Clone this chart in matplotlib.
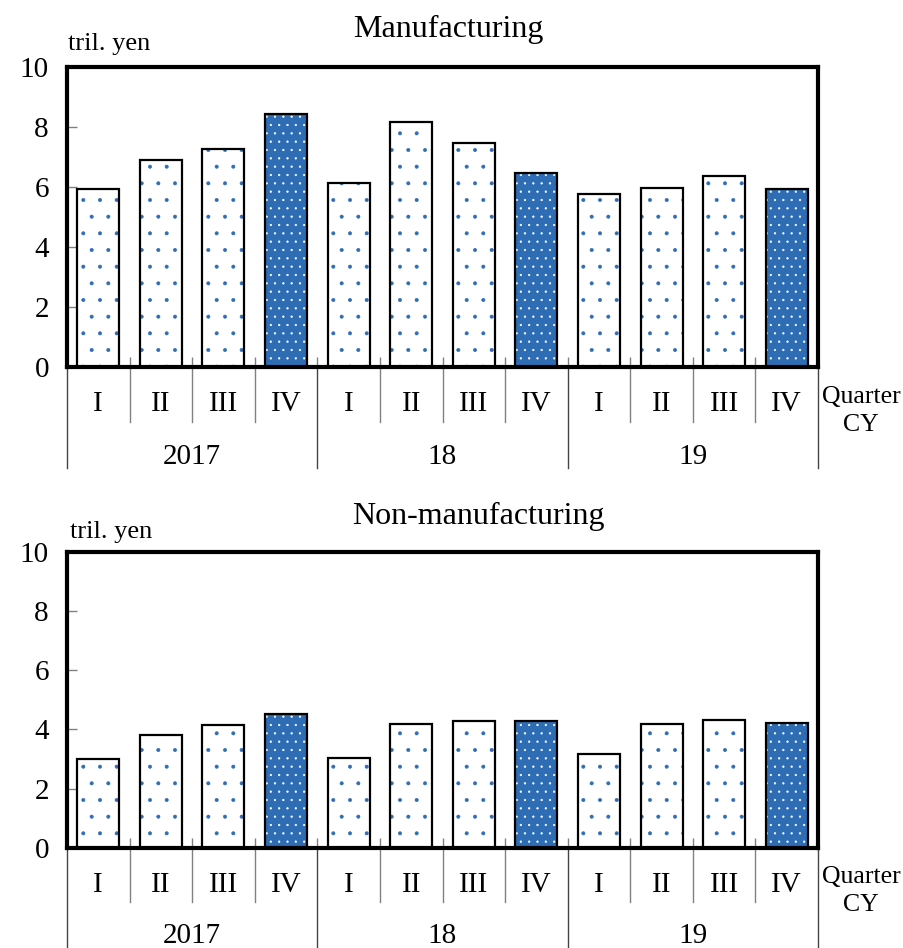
import numpy as np
import matplotlib.pyplot as plt
from matplotlib.transforms import blended_transform_factory

plt.rcParams["font.family"] = ["Liberation Serif", "DejaVu Serif"]
plt.rcParams["hatch.linewidth"] = 0.4

quarters = ["I", "II", "III", "IV"] * 3
years = ["2017", "18", "19"]

manufacturing = [5.92, 6.91, 7.26, 8.42, 6.12, 8.18, 7.46, 6.48, 5.78, 5.98, 6.36, 5.93]
non_manufacturing = [3.01, 3.82, 4.13, 4.53, 3.04, 4.18, 4.28, 4.29, 3.16, 4.17, 4.31, 4.20]

BLUE = "#2E6DB4"
FS = 21


def draw_panel(ax, values):
    x = np.arange(len(values))
    is_q4 = np.array([q == "IV" for q in quarters])

    # hatch layer (hatch colour comes from edgecolor), then black outline on top
    ax.bar(x[~is_q4], np.array(values)[~is_q4], width=0.67, color="white",
           edgecolor=BLUE, hatch=".", linewidth=0, zorder=2)
    ax.bar(x[is_q4], np.array(values)[is_q4], width=0.67, color=BLUE,
           edgecolor="white", hatch="..", linewidth=0, zorder=2)
    ax.bar(x, values, width=0.67, fill=False, edgecolor="black",
           linewidth=1.6, zorder=3)

    ax.set_xlim(-0.5, len(values) - 0.5)
    ax.set_ylim(0, 10)
    ax.set_yticks(np.arange(0, 11, 2))
    ax.tick_params(axis="y", direction="in", length=7, width=1, color="gray",
                   labelsize=FS, pad=13)
    ax.set_xticks(np.arange(0.5, len(values) - 0.5, 1))
    ax.tick_params(axis="x", direction="in", length=7, width=1, color="gray",
                   labelbottom=False)
    for sp in ax.spines.values():
        sp.set_linewidth(3)
        sp.set_zorder(5)

    trans = blended_transform_factory(ax.transData, ax.transAxes)
    for i, q in enumerate(quarters):
        ax.text(i, -0.125, q, transform=trans, ha="center", va="center",
                fontsize=FS)
    for b in range(1, len(values)):
        if b % 4 == 0:
            continue
        ax.plot([b - 0.5, b - 0.5], [0, -0.183], transform=trans,
                color="gray", lw=1, clip_on=False)
    for b in range(0, len(values) + 1, 4):
        ax.plot([b - 0.5, b - 0.5], [0, -0.337], transform=trans,
                color="#444444", lw=1, clip_on=False)
    for j, y in enumerate(years):
        ax.text(4 * j + 1.5, -0.30, y, transform=trans, ha="center",
                va="center", fontsize=FS)

    ax.text(1.005, -0.10, "Quarter", transform=ax.transAxes, ha="left",
            va="center", fontsize=18.5)
    ax.text(1.057, -0.195, "CY", transform=ax.transAxes, ha="center",
            va="center", fontsize=18.5)


fig = plt.figure(figsize=(9.04, 9.48), dpi=100)
ax1 = fig.add_axes([0.0741, 0.6129, 0.8308, 0.3165])
ax2 = fig.add_axes([0.0741, 0.1058, 0.8308, 0.3122])

draw_panel(ax1, manufacturing)
draw_panel(ax2, non_manufacturing)

fig.text(0.3905, 0.961, "Manufacturing", ha="left", va="baseline", fontsize=23)
fig.text(0.3895, 0.447, "Non-manufacturing", ha="left", va="baseline", fontsize=23)
fig.text(0.0752, 0.947, "tril. yen", ha="left", va="baseline", fontsize=19)
fig.text(0.0775, 0.4325, "tril. yen", ha="left", va="baseline", fontsize=19)

fig.savefig("out.png", dpi=100)
